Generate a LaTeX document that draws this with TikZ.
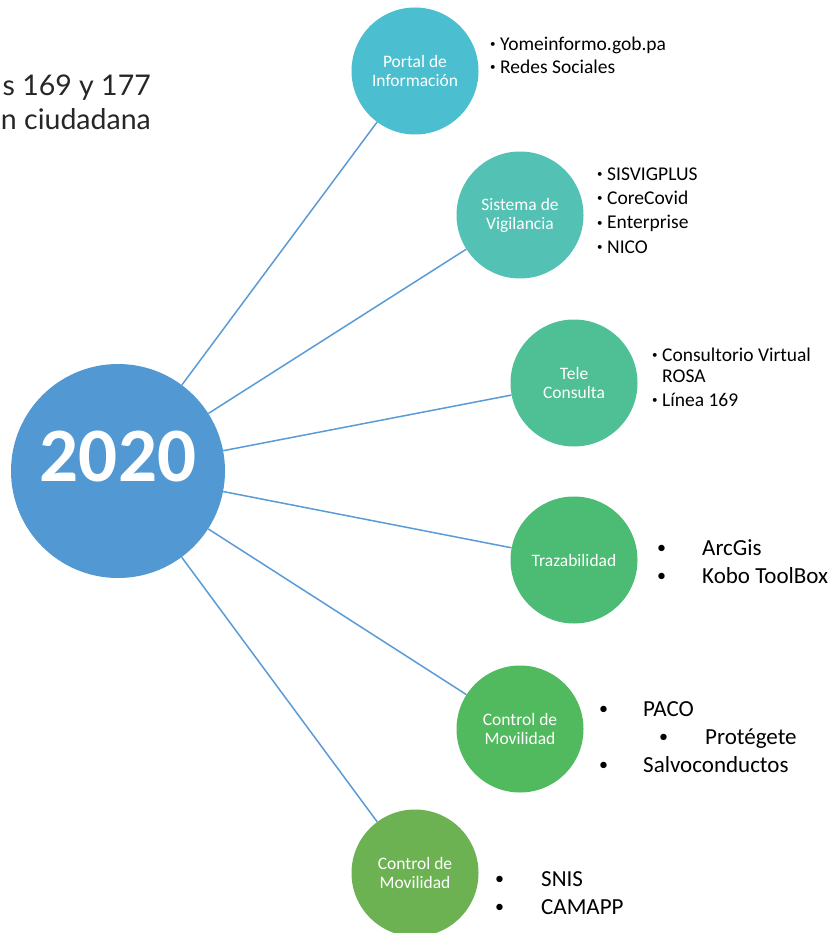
\documentclass[tikz,border=0pt]{standalone}
\usepackage{fontspec}
\setmainfont{Carlito}
\newfontfamily\latofont{Lato}
\definecolor{bigblue}{HTML}{5299D3}
\definecolor{cone}{HTML}{4BBFCF}
\definecolor{ctwo}{HTML}{53C2B4}
\definecolor{cthree}{HTML}{4FBF95}
\definecolor{cfour}{HTML}{4CBB73}
\definecolor{cfive}{HTML}{52BA5E}
\definecolor{csix}{HTML}{6CB152}
\definecolor{linkblue}{HTML}{5B9BD5}
\begin{document}
\begin{tikzpicture}[x=1pt,y=-1pt,
  bubble/.style={circle,minimum size=127pt,inner sep=0pt,text=white,
    font=\fontsize{17.5}{19}\selectfont,align=center},
  link/.style={draw=linkblue,line width=1.5pt},
  item/.style={anchor=base west,inner sep=0pt,font=\fontsize{19.5}{22}\selectfont},
  bigitem/.style={anchor=base west,inner sep=0pt,font=\fontsize{23}{26}\selectfont},
  smalldot/.style={anchor=base west,inner sep=0pt,font=\fontsize{11}{12}\selectfont},
  bigdot/.style={anchor=base west,inner sep=0pt,font=\fontsize{18}{20}\selectfont},
  side/.style={anchor=base east,inner sep=0pt,font=\latofont\fontsize{28.5}{32}\selectfont,text=black!85}
]
\useasboundingbox (0,0) rectangle (838,933);

% top-left partial text
\node[side] (sa) at (151,96) {s 169 y 177};
\node[side] (sb) at (151,130) {n ciudadana};

% central circle
\node[circle,fill=bigblue,minimum size=214pt,inner sep=0pt] (c) at (118,471) {};
\node[text=white,font=\fontsize{77}{80}\bfseries\selectfont,inner sep=0pt] (year) at (118,457) {2020};

% satellite circles
\node[bubble,fill=cone] (p1) at (415,71) {Portal de\\Información};
\node[bubble,fill=ctwo] (p2) at (520,215) {Sistema de\\Vigilancia};
\node[bubble,fill=cthree] (p3) at (574,383) {Tele\\Consulta};
\node[bubble,fill=cfour] (p4) at (574,560) {Trazabilidad};
\node[bubble,fill=cfive] (p5) at (520,729) {Control de\\Movilidad};
\node[bubble,fill=csix] (p6) at (415,873) {Control de\\Movilidad};

% connectors
\foreach \t in {p1,p2,p3,p4,p5,p6} \draw[link] (c) -- (\t);

% list 1
\node[smalldot] (d11) at (490,48) {•};
\node[item] (t11) at (500,51) {Yomeinformo.gob.pa};
\node[smalldot] (d12) at (490,71) {•};
\node[item] (t12) at (500,74) {Redes Sociales};

% list 2
\node[smalldot] (d21) at (597,178) {•};
\node[item] (t21) at (607,181) {SISVIGPLUS};
\node[smalldot] (d22) at (597,202) {•};
\node[item] (t22) at (607,205) {CoreCovid};
\node[smalldot] (d23) at (597,226) {•};
\node[item] (t23) at (607,229) {Enterprise};
\node[smalldot] (d24) at (597,250) {•};
\node[item] (t24) at (607,253) {NICO};

% list 3
\node[smalldot] (d31) at (652,358) {•};
\node[item] (t31) at (662,361) {Consultorio Virtual};
\node[item] (t32) at (662,382) {ROSA};
\node[smalldot] (d33) at (652,403) {•};
\node[item] (t33) at (662,406) {Línea 169};

% list 4
\node[bigdot] (d41) at (657,553) {•};
\node[bigitem] (t41) at (702,555) {ArcGis};
\node[bigdot] (d42) at (657,581) {•};
\node[bigitem] (t42) at (702,583) {Kobo ToolBox};

% list 5
\node[bigdot] (d51) at (599,714) {•};
\node[bigitem] (t51) at (643,716) {PACO};
\node[bigdot] (d52) at (659,742) {•};
\node[bigitem] (t52) at (705,744) {Protégete};
\node[bigdot] (d53) at (599,770) {•};
\node[bigitem] (t53) at (643,772) {Salvoconductos};

% list 6
\node[bigdot] (d61) at (495,884) {•};
\node[bigitem] (t61) at (541,886) {SNIS};
\node[bigdot] (d62) at (495,912) {•};
\node[bigitem] (t62) at (541,914) {CAMAPP};
\end{tikzpicture}
\end{document}
